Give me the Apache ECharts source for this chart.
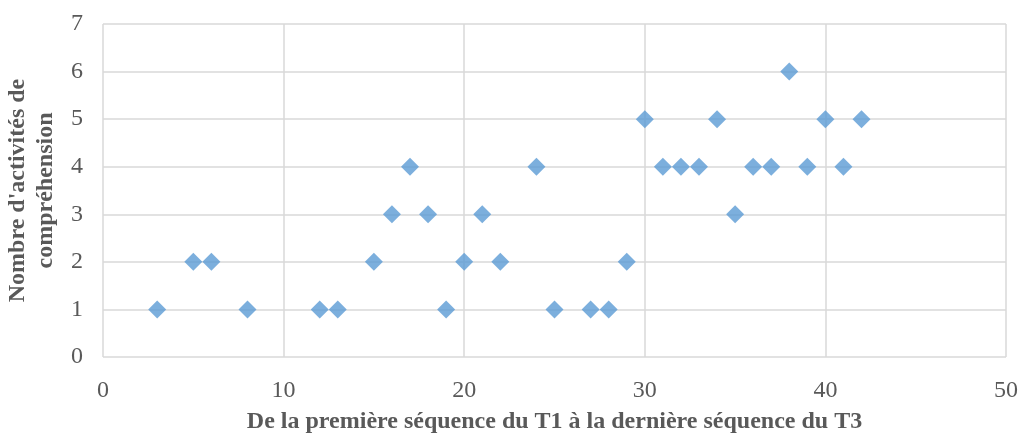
<!DOCTYPE html>
<html><head><meta charset="utf-8">
<script src="https://cdn.jsdelivr.net/npm/echarts@6/dist/echarts.min.js"></script>
<style>html,body{margin:0;padding:0;background:#fff}#c{width:1020px;height:435px}</style>
</head><body><div id="c"></div>
<script>
var xValues = [3,5,6,8,12,13,15,16,17,18,19,20,21,22,24,25,27,28,29,30,31,32,33,34,35,36,37,38,39,40,41,42];
var yValues = [1,2,2,1,1,1,2,3,4,3,1,2,3,2,4,1,1,1,2,5,4,4,4,5,3,4,4,6,4,5,4,5];
var xTitle = "De la première séquence du T1 à la dernière séquence du T3";
var yTitle = "Nombre d'activités de\ncompréhension";
var points = xValues.map(function(x,i){return [x, yValues[i]];});
var font = "'Liberation Serif','Times New Roman',serif";
var chart = echarts.init(document.getElementById('c'));
chart.setOption({
  animation:false,
  grid:{left:103,right:14,top:24,bottom:78,outerBoundsMode:'none',containLabel:false},
  xAxis:{type:'value',min:0,max:50,interval:10,
    axisLine:{show:false},axisTick:{show:false},
    splitLine:{lineStyle:{color:'#d9d9d9',width:1.5}},
    axisLabel:{color:'#595959',fontFamily:font,fontSize:24,margin:22},
    name:xTitle,nameLocation:'middle',nameGap:53,
    nameTextStyle:{color:'#595959',fontFamily:font,fontSize:24,fontWeight:'bold'}},
  yAxis:{type:'value',min:0,max:7,interval:1,
    axisLine:{show:false},axisTick:{show:false},
    splitLine:{lineStyle:{color:'#d9d9d9',width:1.5}},
    axisLabel:{color:'#595959',fontFamily:font,fontSize:24,margin:20},
    name:yTitle,nameLocation:'middle',nameGap:35,nameRotate:90,
    nameTextStyle:{color:'#595959',fontFamily:font,fontSize:24,fontWeight:'bold',lineHeight:28}},
  series:[{type:'scatter',symbol:'diamond',symbolSize:18,data:points,
    itemStyle:{color:'#5b9bd5'}}]
});
</script></body></html>
